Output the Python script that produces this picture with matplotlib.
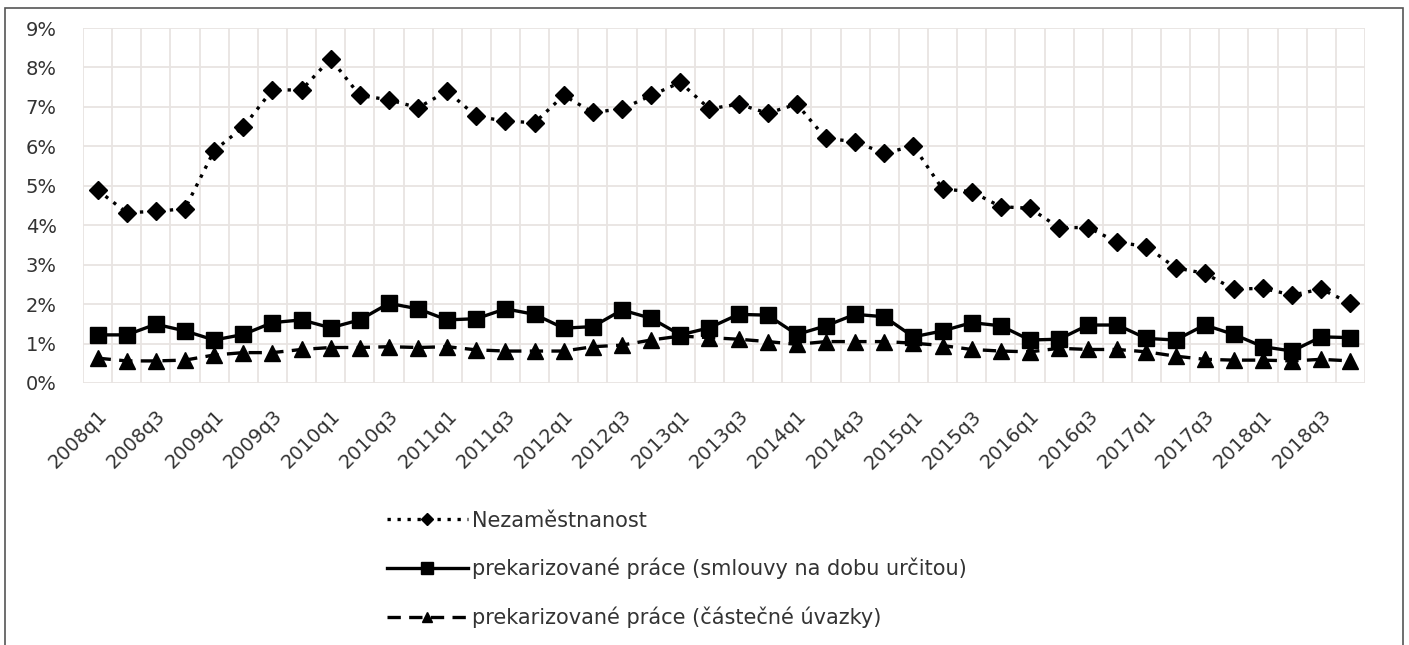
import matplotlib.pyplot as plt
import numpy as np
from matplotlib.patches import Rectangle
from matplotlib.ticker import FuncFormatter, MultipleLocator

# Data (quarterly, %)
quarters = [f"{y}q{q}" for y in range(2008, 2019) for q in range(1, 5)]

nezamestnanost = [4.89, 4.32, 4.35, 4.42, 5.89, 6.49, 7.43, 7.43,
                  8.22, 7.29, 7.18, 6.98, 7.40, 6.76, 6.64, 6.60,
                  7.29, 6.86, 6.95, 7.29, 7.62, 6.95, 7.07, 6.84,
                  7.07, 6.20, 6.12, 5.82, 6.01, 4.92, 4.85, 4.47,
                  4.43, 3.94, 3.94, 3.57, 3.46, 2.92, 2.78, 2.38,
                  2.40, 2.23, 2.38, 2.02]

smlouvy_urcito = [1.22, 1.22, 1.49, 1.32, 1.09, 1.23, 1.53, 1.60,
                  1.40, 1.60, 2.02, 1.88, 1.60, 1.63, 1.88, 1.74,
                  1.39, 1.43, 1.85, 1.64, 1.22, 1.40, 1.74, 1.72,
                  1.23, 1.45, 1.74, 1.68, 1.17, 1.32, 1.53, 1.45,
                  1.09, 1.11, 1.47, 1.47, 1.13, 1.09, 1.47, 1.23,
                  0.92, 0.81, 1.17, 1.15]

castecne_uvazky = [0.63, 0.56, 0.56, 0.58, 0.71, 0.77, 0.77, 0.85,
                   0.90, 0.90, 0.92, 0.90, 0.92, 0.84, 0.81, 0.81,
                   0.81, 0.92, 0.96, 1.09, 1.19, 1.15, 1.11, 1.05,
                   0.98, 1.05, 1.05, 1.05, 1.01, 0.95, 0.85, 0.81,
                   0.79, 0.88, 0.85, 0.85, 0.79, 0.68, 0.60, 0.58,
                   0.58, 0.56, 0.60, 0.56]

plt.rcParams['font.family'] = ['DejaVu Sans']

fig = plt.figure(figsize=(14.09, 6.45), dpi=100)
ax = fig.add_axes([83/1409, 1 - 383/645, (1365 - 83)/1409, (383 - 28)/645])

x = np.arange(len(quarters))
ax.plot(x, nezamestnanost, linestyle=(0, (1, 2)), linewidth=2.4, color='black',
        marker='D', markersize=9, label='Nezaměstnanost')
ax.plot(x, smlouvy_urcito, linestyle='-', linewidth=2.4, color='black',
        marker='s', markersize=12, label='prekarizované práce (smlouvy na dobu určitou)')
ax.plot(x, castecne_uvazky, linestyle=(0, (4, 2.5)), linewidth=2.4, color='black',
        marker='^', markersize=11, label='prekarizované práce (částečné úvazky)')

ax.set_xlim(-0.5, len(quarters) - 0.5)
ax.set_ylim(0, 9)
ax.yaxis.set_major_locator(MultipleLocator(1))
ax.yaxis.set_major_formatter(FuncFormatter(lambda v, p: f"{v:.0f}%"))

ax.set_xticks(x[::2])
ax.set_xticklabels(quarters[::2], rotation=45, ha='right', va='top',
                   rotation_mode='anchor')
ax.set_xticks(np.arange(-0.5, len(quarters), 1), minor=True)

ax.grid(True, which='minor', axis='x', color='#e8e4e2', linewidth=1.3)
ax.grid(True, which='major', axis='y', color='#e8e4e2', linewidth=1.3)
ax.set_axisbelow(True)
ax.tick_params(axis='both', which='both', length=0, labelsize=14, colors='#333333')
ax.tick_params(axis='x', pad=17)
ax.tick_params(axis='y', pad=19)
for s in ax.spines.values():
    s.set_visible(False)

leg = ax.legend(loc='upper left', bbox_to_anchor=(368/1409, 1 - 492/645),
                bbox_transform=fig.transFigure, frameon=False, fontsize=15,
                handlelength=3.9, labelspacing=1.3, handletextpad=0.2,
                markerscale=0.7)
for t in leg.get_texts():
    t.set_color('#333333')

fig.patches.append(Rectangle((5/1409, -0.01), 1398/1409, 1 - 8/645 + 0.01,
                             transform=fig.transFigure, fill=False,
                             edgecolor='#555555', linewidth=1.2))

fig.savefig('out.png', dpi=100)
